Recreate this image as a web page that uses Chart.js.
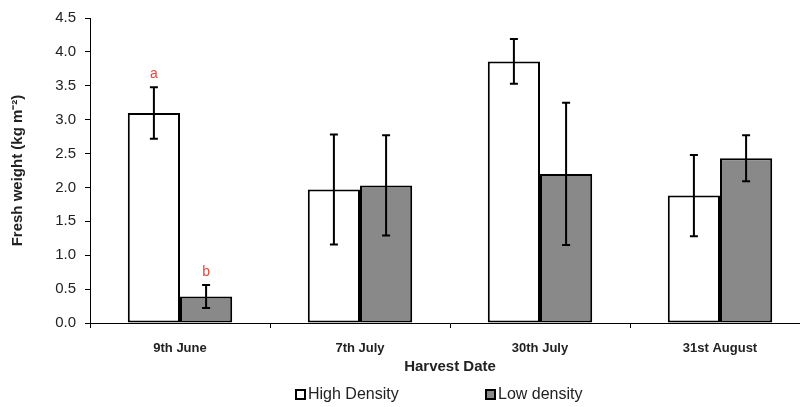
<!DOCTYPE html>
<html>
<head>
<meta charset="utf-8">
<script src="https://cdn.jsdelivr.net/npm/chart.js@4"></script>
<style>
  html, body { margin: 0; padding: 0; background: #fff; overflow: hidden; }
  #wrap { width: 810px; height: 407px; position: relative; }
</style>
</head>
<body>
<div id="wrap"><canvas id="barChart"></canvas></div>
<script>
// harvest dates
const categories = ['9th June', '7th July', '30th July', '31st August'];
// fresh weight means (kg m-2) and their error bars
const highDensity = [3.10, 1.97, 3.86, 1.88];
const highError = [0.38, 0.81, 0.33, 0.60];
const lowDensity = [0.39, 2.03, 2.20, 2.43];
const lowError = [0.17, 0.74, 1.05, 0.34];
// significance letters
const highLetters = ['a', '', '', ''];
const lowLetters = ['b', '', '', ''];
// y axis
const yMax = 4.5;
const yStep = 0.5;

const FONT = 'Arial, "Liberation Sans", sans-serif';

const errorBars = {
    id: 'errorBars',
    afterDatasetsDraw(chart) {
        const ctx = chart.ctx;
        const y = chart.scales.y;
        ctx.save();
        chart.data.datasets.forEach((ds, i) => {
            const meta = chart.getDatasetMeta(i);
            meta.data.forEach((bar, j) => {
                const v = ds.data[j], e = ds.errors[j];
                const top = y.getPixelForValue(v + e);
                const bot = y.getPixelForValue(v - e);
                ctx.strokeStyle = '#000';
                ctx.lineWidth = 2;
                ctx.beginPath();
                ctx.moveTo(bar.x, top); ctx.lineTo(bar.x, bot);
                ctx.moveTo(bar.x - 4, top); ctx.lineTo(bar.x + 4, top);
                ctx.moveTo(bar.x - 4, bot); ctx.lineTo(bar.x + 4, bot);
                ctx.stroke();
                if (ds.letters[j]) {
                    ctx.fillStyle = '#e8463c';
                    ctx.font = '14px ' + FONT;
                    ctx.textAlign = 'center';
                    ctx.textBaseline = 'bottom';
                    ctx.fillText(ds.letters[j], bar.x, top - 6);
                }
            });
        });
        ctx.restore();
    }
};

const bottomLegend = {
    id: 'bottomLegend',
    afterDraw(chart) {
        const ctx = chart.ctx;
        const items = [
            { x: 296, ds: chart.data.datasets[0] },
            { x: 486, ds: chart.data.datasets[1] }
        ];
        ctx.save();
        items.forEach(it => {
            ctx.fillStyle = it.ds.backgroundColor;
            ctx.strokeStyle = '#000';
            ctx.lineWidth = 2;
            ctx.fillRect(it.x, 390, 9, 9);
            ctx.strokeRect(it.x, 390, 9, 9);
            ctx.fillStyle = '#222';
            ctx.font = '16px ' + FONT;
            ctx.textAlign = 'left';
            ctx.textBaseline = 'middle';
            ctx.fillText(it.ds.label, it.x + 12, 395);
        });
        ctx.restore();
    }
};

new Chart(document.getElementById('barChart').getContext('2d'), {
    type: 'bar',
    data: {
        labels: categories,
        datasets: [{
            label: 'High Density',
            data: highDensity,
            errors: highError,
            letters: highLetters,
            backgroundColor: '#ffffff',
            borderColor: '#000000',
            borderWidth: 2,
            borderSkipped: false,
            categoryPercentage: 0.58,
            barPercentage: 1.0
        }, {
            label: 'Low density',
            data: lowDensity,
            errors: lowError,
            letters: lowLetters,
            backgroundColor: '#898989',
            borderColor: '#000000',
            borderWidth: 2,
            borderSkipped: false,
            categoryPercentage: 0.58,
            barPercentage: 1.0
        }]
    },
    options: {
        responsive: true,
        maintainAspectRatio: false,
        animation: false,
        layout: { padding: { top: 14, bottom: 29, left: 0, right: 0 } },
        plugins: {
            legend: { display: false },
            tooltip: { enabled: false }
        },
        scales: {
            x: {
                grid: {
                    display: true, drawOnChartArea: false, offset: true,
                    tickLength: 5, color: '#000', tickColor: '#000'
                },
                border: { color: '#000', width: 1 },
                ticks: {
                    color: '#222', padding: 13,
                    font: { family: FONT, size: 13, weight: 'bold' }
                },
                title: {
                    display: true, text: 'Harvest Date', color: '#222',
                    font: { family: FONT, size: 15, weight: 'bold' },
                    padding: { top: 0, bottom: 2 }
                },
                afterFit(scale) { scale.height = 55; }
            },
            y: {
                min: 0, max: yMax,
                grid: {
                    display: true, drawOnChartArea: false,
                    tickLength: 5, color: '#000', tickColor: '#000'
                },
                border: { color: '#000', width: 1 },
                ticks: {
                    stepSize: yStep, color: '#222', padding: 9,
                    font: { family: FONT, size: 15 },
                    callback: v => v.toFixed(1)
                },
                title: {
                    display: true, text: 'Fresh weight (kg m⁻²)', color: '#222',
                    font: { family: FONT, size: 15, weight: 'bold' },
                    padding: { top: 9, bottom: 4 }
                },
                afterFit(scale) { scale.width = 90; }
            }
        }
    },
    plugins: [errorBars, bottomLegend]
});
</script>
</body>
</html>
